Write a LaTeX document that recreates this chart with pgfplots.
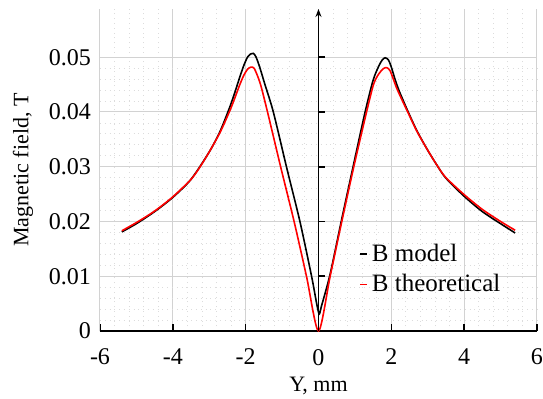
\documentclass[border=0pt]{standalone}
\usepackage{pgfplots}
\pgfplotsset{compat=1.18}
\usepackage{fontspec}
\setmainfont{Liberation Serif}
\usetikzlibrary{arrows.meta}
\definecolor{gmaj}{RGB}{210,210,210}
\definecolor{gmin}{RGB}{220,220,220}
\begin{document}
\begin{tikzpicture}[font=\fontsize{11}{13}\selectfont]
\useasboundingbox (-50pt,-33.5pt) rectangle (221.5pt,165.5pt);
\begin{axis}[
  at={(0,0)}, anchor=south west,
  scale only axis, width=218.5pt, height=161pt,
  xmin=-6, xmax=6, ymin=0, ymax=0.0588,
  axis x line*=bottom, axis y line*=left,
  y axis line style={draw=gmaj, line width=0.5pt},
  x axis line style={black, line width=0.8pt},
  xtick={-6,-4,-2,0,2,4,6},
  xticklabels={-6,-4,-2,0,2,4,6},
  ytick={0,0.01,0.02,0.03,0.04,0.05},
  yticklabels={0,0.01,0.02,0.03,0.04,0.05},
  ticklabel style={font=\fontsize{12}{14}\selectfont},
  minor x tick num=4, minor y tick num=4,
  grid=both,
  major grid style={draw=gmaj, line width=0.5pt},
  minor grid style={draw=gmin, line width=0.4pt, dotted},
  tick align=inside,
  major x tick style={black, line width=0.8pt},
  major tick length=3.5pt,
  minor tick length=0pt,
  major y tick style={draw=none},
  xticklabel style={yshift=-5.5pt},
  yticklabel style={xshift=-1pt},
  xlabel={Y, mm},
  ylabel={Magnetic field, T},
  ylabel style={yshift=1pt},
  xlabel style={yshift=1pt},
  legend style={draw=none, fill=none, at={(rel axis cs:0.588,0.29)}, anchor=north west,
    row sep=1pt, font=\fontsize{12.5}{14}\selectfont, inner sep=1pt},
  legend cell align=left,
  legend image code/.code={\draw[#1] (0pt,0pt) -- (3.5pt,0pt);},
  legend style={/tikz/every even column/.append style={column sep=0pt}},
]
\addplot[black, line width=0.8pt, smooth, tension=0.45] coordinates {
(-5.4,0.0181) (-5.0,0.0196) (-4.5,0.0218) (-4.0,0.0244) (-3.5,0.0277)
(-3.0,0.0327) (-2.7,0.0365) (-2.43,0.0410) (-2.3,0.0435) (-2.16,0.0464)
(-2.05,0.0485) (-1.95,0.0500) (-1.86,0.0506) (-1.79,0.0507) (-1.72,0.0501)
(-1.62,0.0483) (-1.47,0.0450) (-1.24,0.0400) (-0.88,0.0300) (-0.51,0.0200)
(-0.19,0.0100) (-0.05,0.0050) (0.02,0.0031) (0.08,0.0045) (0.32,0.0104)
(0.64,0.0205) (0.95,0.0300) (1.28,0.0400) (1.5,0.0458) (1.65,0.0483)
(1.75,0.0495) (1.83,0.0499) (1.92,0.0495) (2.0,0.0482) (2.1,0.0460)
(2.2,0.0441) (2.3,0.0425) (2.45,0.0402) (2.7,0.0366) (3.0,0.0330)
(3.28,0.0300) (3.5,0.0279) (4.0,0.0246) (4.5,0.0218) (5.0,0.0196)
(5.4,0.0179)
};
\addlegendentry{B model}
\addplot[red, line width=0.8pt, smooth, tension=0.45] coordinates {
(-5.4,0.0183) (-5.0,0.0198) (-4.5,0.0219) (-4.0,0.0245) (-3.5,0.0277)
(-3.25,0.0300) (-3.0,0.0327) (-2.7,0.0363) (-2.43,0.0403) (-2.3,0.0425)
(-2.16,0.0450) (-2.05,0.0467) (-1.95,0.0478) (-1.85,0.0482) (-1.76,0.0479)
(-1.6,0.0452) (-1.4,0.0400) (-1.04,0.0300) (-0.67,0.0200) (-0.33,0.0100)
(0,0) (0.32,0.0100) (0.64,0.0200) (0.97,0.0300) (1.32,0.0400)
(1.51,0.0450) (1.65,0.0469) (1.78,0.0479) (1.87,0.0481) (1.96,0.0476)
(2.05,0.0461) (2.15,0.0443) (2.3,0.0421) (2.45,0.0400) (2.7,0.0365)
(3.0,0.0330) (3.28,0.0300) (3.5,0.0280) (4.0,0.0249) (4.5,0.0222)
(5.0,0.0200) (5.4,0.0184)
};
\addlegendentry{B theoretical}
\draw[black, line width=0.8pt, -{Stealth[length=4pt,width=3pt]}] (axis cs:0,0) -- (axis cs:0,0.0588);
\pgfplotsinvokeforeach{0.01,0.02,0.03,0.04,0.05}{
  \draw[black, line width=0.8pt] (axis cs:0,#1) -- ++(3.5pt,0pt);
}
\end{axis}
\end{tikzpicture}
\end{document}
